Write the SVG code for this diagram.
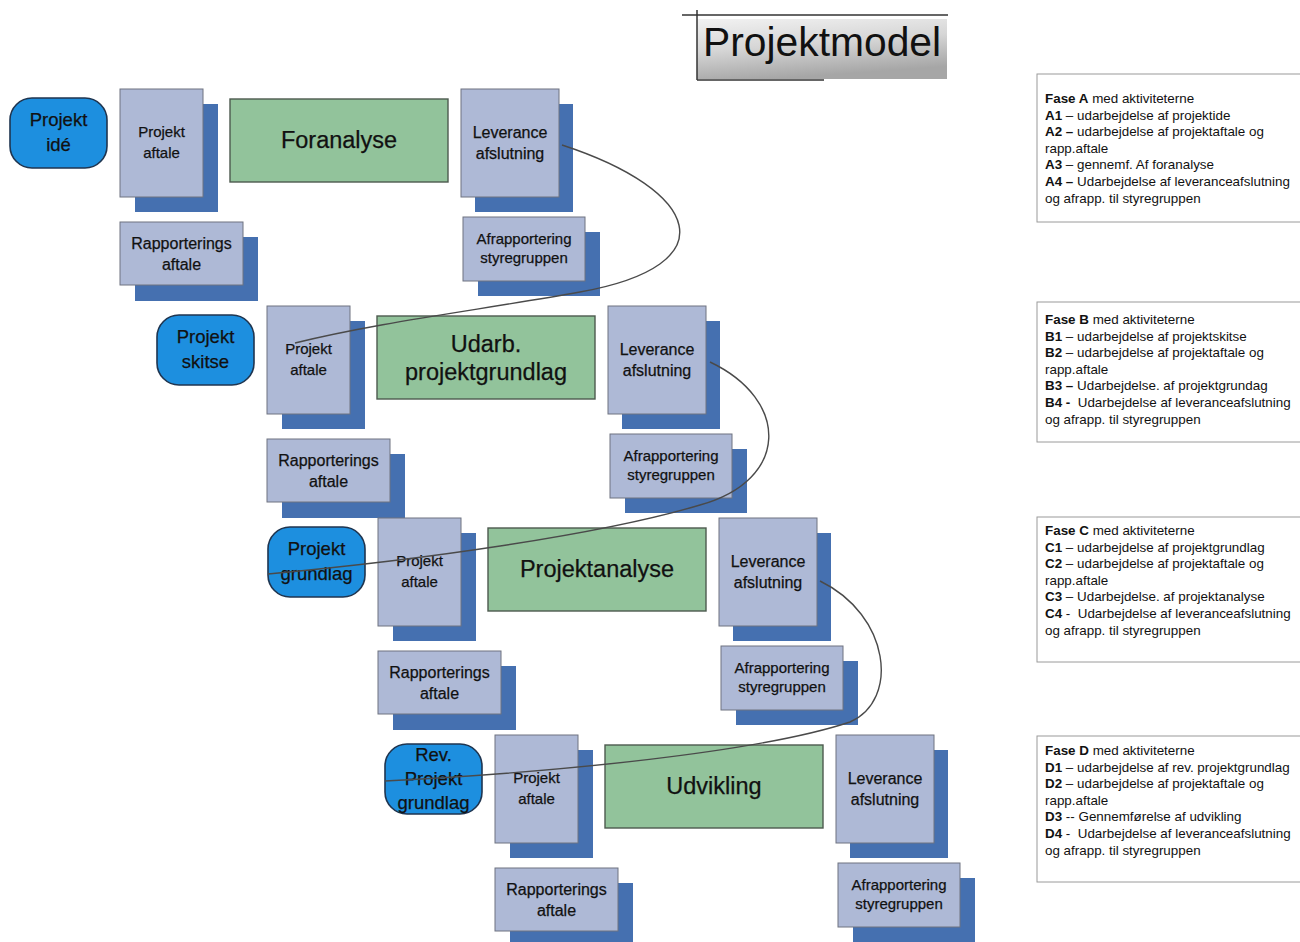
<svg xmlns="http://www.w3.org/2000/svg" width="1300" height="942" viewBox="0 0 1300 942">
<defs>
<linearGradient id="titleGrad" x1="0" y1="0" x2="0.3" y2="1">
<stop offset="0" stop-color="#f2f2f2"/>
<stop offset="0.5" stop-color="#d6d6d6"/>
<stop offset="1" stop-color="#a6a6a6"/>
</linearGradient>
<style>
.start{fill:#1d8fdf;stroke:#1f3550;stroke-width:1.6}
.front{fill:#aeb9d6;stroke:#6e7380;stroke-width:1}
.shadow{fill:#4570b0}
.phase{fill:#92c39b;stroke:#4d5a4f;stroke-width:1.4}
.t{font-family:"Liberation Sans",Arial,sans-serif;fill:#111;text-anchor:middle;stroke:#111;stroke-width:0.25}
.s18{font-size:18.5px}
.s16{font-size:16px}
.s15{font-size:15px}
.s23{font-size:23.5px}
.note{fill:#fff;stroke:#9a9a9a;stroke-width:1}
.nt{font-family:"Liberation Sans",Arial,sans-serif;font-size:13.4px;fill:#111}
.b{font-weight:bold}
.con{fill:none;stroke:#4a4a4a;stroke-width:1.4}
</style>
</defs>
<rect width="1300" height="942" fill="#fff"/>

<g id="title">
<rect x="697" y="19" width="250" height="60" fill="url(#titleGrad)"/>
<line x1="682" y1="15" x2="948" y2="15" stroke="#333" stroke-width="1.5"/>
<line x1="697" y1="10" x2="697" y2="80" stroke="#333" stroke-width="1.5"/>
<line x1="697" y1="80" x2="824" y2="80" stroke="#333" stroke-width="1.5"/>
<text x="703" y="56" font-family="Liberation Sans, Arial, sans-serif" font-size="40.8px" fill="#111">Projektmodel</text>
</g>

<!-- Phase A -->
<g id="phase-a">
<g id="a-start"><rect class="start" x="10" y="98" width="97" height="70" rx="22"/>
<text class="t s18" x="58.5" y="126">Projekt</text><text class="t s18" x="58.5" y="151">idé</text></g>
<g id="a-projektaftale"><rect class="shadow" x="135" y="104" width="83" height="108"/><rect class="front" x="120" y="89" width="83" height="108"/>
<text class="t s15" x="161.5" y="137">Projekt</text><text class="t s15" x="161.5" y="158">aftale</text></g>
<g id="a-phase"><rect class="phase" x="230" y="99" width="218" height="83"/>
<text class="t s23" x="339" y="148">Foranalyse</text></g>
<g id="a-leverance"><rect class="shadow" x="475" y="104" width="98" height="108"/><rect class="front" x="461" y="89" width="98" height="108"/>
<text class="t s16" x="510" y="138">Leverance</text><text class="t s16" x="510" y="159">afslutning</text></g>
<g id="a-afrapportering"><rect class="shadow" x="478" y="232" width="122" height="64"/><rect class="front" x="463" y="217" width="122" height="64"/>
<text class="t s15" x="524" y="244">Afrapportering</text><text class="t s15" x="524" y="263">styregruppen</text></g>
<g id="a-rapportering"><rect class="shadow" x="135" y="237" width="123" height="64"/><rect class="front" x="120" y="222" width="123" height="63"/>
<text class="t s16" x="181.5" y="249">Rapporterings</text><text class="t s16" x="181.5" y="270">aftale</text></g>
</g>

<!-- Phase B -->
<g id="phase-b" transform="translate(147,217)">
<g id="b-start"><rect class="start" x="10" y="98" width="97" height="70" rx="22"/>
<text class="t s18" x="58.5" y="126">Projekt</text><text class="t s18" x="58.5" y="151">skitse</text></g>
<g id="b-projektaftale"><rect class="shadow" x="135" y="104" width="83" height="108"/><rect class="front" x="120" y="89" width="83" height="108"/>
<text class="t s15" x="161.5" y="137">Projekt</text><text class="t s15" x="161.5" y="158">aftale</text></g>
<g id="b-phase"><rect class="phase" x="230" y="99" width="218" height="83"/>
<text class="t s23" x="339" y="135">Udarb.</text><text class="t s23" x="339" y="163">projektgrundlag</text></g>
<g id="b-leverance"><rect class="shadow" x="475" y="104" width="98" height="108"/><rect class="front" x="461" y="89" width="98" height="108"/>
<text class="t s16" x="510" y="138">Leverance</text><text class="t s16" x="510" y="159">afslutning</text></g>
<g id="b-afrapportering"><rect class="shadow" x="478" y="232" width="122" height="64"/><rect class="front" x="463" y="217" width="122" height="64"/>
<text class="t s15" x="524" y="244">Afrapportering</text><text class="t s15" x="524" y="263">styregruppen</text></g>
<g id="b-rapportering"><rect class="shadow" x="135" y="237" width="123" height="64"/><rect class="front" x="120" y="222" width="123" height="63"/>
<text class="t s16" x="181.5" y="249">Rapporterings</text><text class="t s16" x="181.5" y="270">aftale</text></g>
</g>

<!-- Phase C -->
<g id="phase-c" transform="translate(258,429)">
<g id="c-start"><rect class="start" x="10" y="98" width="97" height="70" rx="22"/>
<text class="t s18" x="58.5" y="126">Projekt</text><text class="t s18" x="58.5" y="151">grundlag</text></g>
<g id="c-projektaftale"><rect class="shadow" x="135" y="104" width="83" height="108"/><rect class="front" x="120" y="89" width="83" height="108"/>
<text class="t s15" x="161.5" y="137">Projekt</text><text class="t s15" x="161.5" y="158">aftale</text></g>
<g id="c-phase"><rect class="phase" x="230" y="99" width="218" height="83"/>
<text class="t s23" x="339" y="148">Projektanalyse</text></g>
<g id="c-leverance"><rect class="shadow" x="475" y="104" width="98" height="108"/><rect class="front" x="461" y="89" width="98" height="108"/>
<text class="t s16" x="510" y="138">Leverance</text><text class="t s16" x="510" y="159">afslutning</text></g>
<g id="c-afrapportering"><rect class="shadow" x="478" y="232" width="122" height="64"/><rect class="front" x="463" y="217" width="122" height="64"/>
<text class="t s15" x="524" y="244">Afrapportering</text><text class="t s15" x="524" y="263">styregruppen</text></g>
<g id="c-rapportering"><rect class="shadow" x="135" y="237" width="123" height="64"/><rect class="front" x="120" y="222" width="123" height="63"/>
<text class="t s16" x="181.5" y="249">Rapporterings</text><text class="t s16" x="181.5" y="270">aftale</text></g>
</g>

<!-- Phase D -->
<g id="phase-d" transform="translate(375,646)">
<g id="d-start"><rect class="start" x="10" y="98" width="97" height="70" rx="22"/>
<text class="t s18" x="58.5" y="115">Rev.</text><text class="t s18" x="58.5" y="139">Projekt</text><text class="t s18" x="58.5" y="163">grundlag</text></g>
<g id="d-projektaftale"><rect class="shadow" x="135" y="104" width="83" height="108"/><rect class="front" x="120" y="89" width="83" height="108"/>
<text class="t s15" x="161.5" y="137">Projekt</text><text class="t s15" x="161.5" y="158">aftale</text></g>
<g id="d-phase"><rect class="phase" x="230" y="99" width="218" height="83"/>
<text class="t s23" x="339" y="148">Udvikling</text></g>
<g id="d-leverance"><rect class="shadow" x="475" y="104" width="98" height="108"/><rect class="front" x="461" y="89" width="98" height="108"/>
<text class="t s16" x="510" y="138">Leverance</text><text class="t s16" x="510" y="159">afslutning</text></g>
<g id="d-afrapportering"><rect class="shadow" x="478" y="232" width="122" height="64"/><rect class="front" x="463" y="217" width="122" height="64"/>
<text class="t s15" x="524" y="244">Afrapportering</text><text class="t s15" x="524" y="263">styregruppen</text></g>
<g id="d-rapportering"><rect class="shadow" x="135" y="237" width="123" height="64"/><rect class="front" x="120" y="222" width="123" height="63"/>
<text class="t s16" x="181.5" y="249">Rapporterings</text><text class="t s16" x="181.5" y="270">aftale</text></g>
</g>

<!-- Connectors -->
<g id="connectors">
<path class="con" d="M562,145 C700,190 730,265 580,292 C480,310 380,322 295,343"/>
<path class="con" d="M710,362 C790,400 790,480 700,505 C600,535 420,560 268,574"/>
<path class="con" d="M820,581 C890,615 900,700 850,722 C760,752 560,772 385,781"/>
</g>

<!-- Notes -->
<g id="note-a">
<rect class="note" x="1037" y="74" width="300" height="148"/>
<text class="nt" x="1045" y="103"><tspan class="b">Fase A</tspan> med aktiviteterne</text>
<text class="nt" x="1045" y="119.6"><tspan class="b">A1</tspan> – udarbejdelse af projektide</text>
<text class="nt" x="1045" y="136.2"><tspan class="b">A2 –</tspan> udarbejdelse af projektaftale og</text>
<text class="nt" x="1045" y="152.8">rapp.aftale</text>
<text class="nt" x="1045" y="169.4"><tspan class="b">A3</tspan> – gennemf. Af foranalyse</text>
<text class="nt" x="1045" y="186"><tspan class="b">A4 –</tspan> Udarbejdelse af leveranceafslutning</text>
<text class="nt" x="1045" y="202.6">og afrapp. til styregruppen</text>
</g>
<g id="note-b">
<rect class="note" x="1037" y="302" width="300" height="140"/>
<text class="nt" x="1045" y="324"><tspan class="b">Fase B</tspan> med aktiviteterne</text>
<text class="nt" x="1045" y="340.6"><tspan class="b">B1</tspan> – udarbejdelse af projektskitse</text>
<text class="nt" x="1045" y="357.2"><tspan class="b">B2</tspan> – udarbejdelse af projektaftale og</text>
<text class="nt" x="1045" y="373.8">rapp.aftale</text>
<text class="nt" x="1045" y="390.4"><tspan class="b">B3 –</tspan> Udarbejdelse. af projektgrundag</text>
<text class="nt" x="1045" y="407" xml:space="preserve"><tspan class="b">B4 -</tspan>  Udarbejdelse af leveranceafslutning</text>
<text class="nt" x="1045" y="423.6">og afrapp. til styregruppen</text>
</g>
<g id="note-c">
<rect class="note" x="1037" y="517" width="300" height="145"/>
<text class="nt" x="1045" y="535"><tspan class="b">Fase C</tspan> med aktiviteterne</text>
<text class="nt" x="1045" y="551.6"><tspan class="b">C1</tspan> – udarbejdelse af projektgrundlag</text>
<text class="nt" x="1045" y="568.2"><tspan class="b">C2</tspan> – udarbejdelse af projektaftale og</text>
<text class="nt" x="1045" y="584.8">rapp.aftale</text>
<text class="nt" x="1045" y="601.4"><tspan class="b">C3</tspan> – Udarbejdelse. af projektanalyse</text>
<text class="nt" x="1045" y="618" xml:space="preserve"><tspan class="b">C4</tspan> -  Udarbejdelse af leveranceafslutning</text>
<text class="nt" x="1045" y="634.6">og afrapp. til styregruppen</text>
</g>
<g id="note-d">
<rect class="note" x="1037" y="736" width="300" height="146"/>
<text class="nt" x="1045" y="755"><tspan class="b">Fase D</tspan> med aktiviteterne</text>
<text class="nt" x="1045" y="771.6"><tspan class="b">D1</tspan> – udarbejdelse af rev. projektgrundlag</text>
<text class="nt" x="1045" y="788.2"><tspan class="b">D2</tspan> – udarbejdelse af projektaftale og</text>
<text class="nt" x="1045" y="804.8">rapp.aftale</text>
<text class="nt" x="1045" y="821.4"><tspan class="b">D3</tspan> -- Gennemførelse af udvikling</text>
<text class="nt" x="1045" y="838" xml:space="preserve"><tspan class="b">D4</tspan> -  Udarbejdelse af leveranceafslutning</text>
<text class="nt" x="1045" y="854.6">og afrapp. til styregruppen</text>
</g>
</svg>
